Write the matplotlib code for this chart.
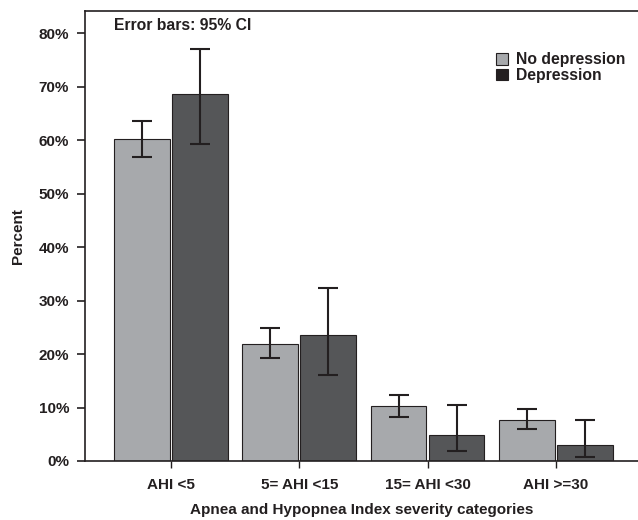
import matplotlib
matplotlib.use("Agg")
import matplotlib.pyplot as plt
from matplotlib.patches import Patch
from matplotlib.ticker import FuncFormatter
import numpy as np

categories = ["AHI <5", "5= AHI <15", "15= AHI <30", "AHI >=30"]
no_dep = [60.2, 21.9, 10.2, 7.7]
no_dep_lo = [56.8, 19.2, 8.2, 6.0]
no_dep_hi = [63.5, 24.9, 12.4, 9.7]
dep = [68.6, 23.5, 4.9, 2.9]
dep_lo = [59.2, 16.1, 1.9, 0.8]
dep_hi = [77.1, 32.4, 10.4, 7.6]

ink = "#231f20"
light = "#a7a9ac"
dark = "#555658"
plt.rcParams["font.family"] = ["Liberation Sans", "DejaVu Sans"]
plt.rcParams["font.weight"] = "bold"
plt.rcParams["axes.labelweight"] = "bold"

fig = plt.figure(figsize=(6.38, 5.2), dpi=100)
ax = fig.add_axes([0.1332, 0.1135, 0.8668, 0.8659])

x = np.arange(len(categories))
w = 0.433
off = 0.226
err_nd = [np.array(no_dep) - np.array(no_dep_lo), np.array(no_dep_hi) - np.array(no_dep)]
err_d = [np.array(dep) - np.array(dep_lo), np.array(dep_hi) - np.array(dep)]

ax.bar(x - off, no_dep, w, color=light, edgecolor=ink, linewidth=0.8, zorder=2)
ax.bar(x + off, dep, w, color=dark, edgecolor=ink, linewidth=0.8, zorder=2)
ax.errorbar(x - off, no_dep, yerr=err_nd, fmt="none", ecolor=ink, elinewidth=1.5,
            capsize=7.5, capthick=1.5, zorder=3)
ax.errorbar(x + off, dep, yerr=err_d, fmt="none", ecolor=ink, elinewidth=1.5,
            capsize=7.5, capthick=1.5, zorder=3)

ax.set_xlim(-0.670, 3.64)
ax.set_ylim(0, 84.2)
ax.set_yticks(np.arange(0, 81, 10))
ax.yaxis.set_major_formatter(FuncFormatter(lambda v, p: f"{v:.0f}%"))
ax.set_xticks(x)
ax.set_xticklabels(categories)

for s in ["left", "bottom", "top"]:
    ax.spines[s].set_color(ink)
    ax.spines[s].set_linewidth(1.2)
ax.spines["right"].set_visible(False)

ax.tick_params(axis="y", length=6, width=1.2, color=ink, labelsize=11,
               labelcolor=ink, pad=5.5)
ax.tick_params(axis="x", length=5, width=1.0, color=ink, labelsize=11,
               labelcolor=ink, pad=7)

ax.set_ylabel("Percent", fontsize=11, color=ink, labelpad=10)
ax.set_xlabel("Apnea and Hypopnea Index severity categories", fontsize=11,
              color=ink, labelpad=8)

ax.text(0.053, 0.968, "Error bars: 95% CI", transform=ax.transAxes,
        fontsize=11.3, color=ink, va="center", ha="left")

handles = [Patch(facecolor=light, edgecolor=ink, linewidth=0.8),
           Patch(facecolor=ink, edgecolor=ink, linewidth=0.8)]
ax.legend(handles, ["No depression", "Depression"], loc="upper left",
          bbox_to_anchor=(0.729, 0.925), frameon=False, borderpad=0,
          handlelength=0.75, handleheight=0.75, labelspacing=0.05,
          handletextpad=0.5, prop={"size": 11.3, "weight": "bold"},
          labelcolor=ink)

fig.savefig("out.png", dpi=100)
